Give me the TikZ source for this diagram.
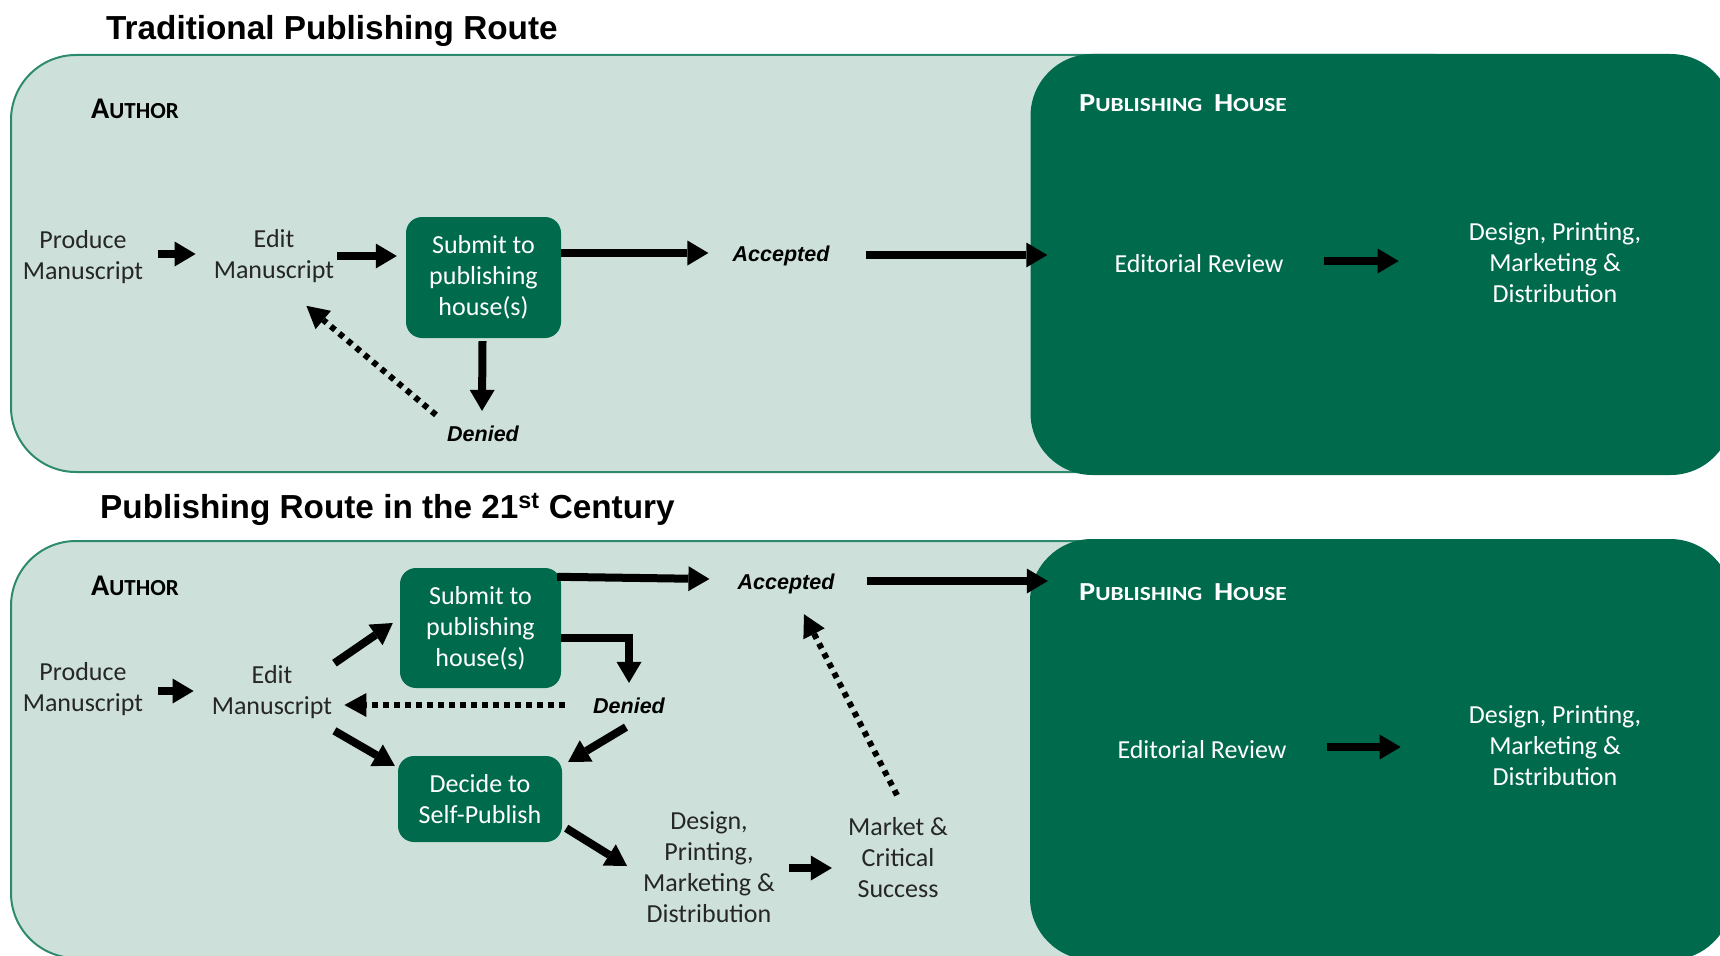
\documentclass[tikz,border=0pt]{standalone}
\usepackage{fontspec}
\usepackage{graphicx}
\setmainfont{Carlito}
\newfontfamily\arialf{Liberation Sans}
\usetikzlibrary{arrows.meta,calc}
\definecolor{lightg}{RGB}{205,225,218}
\definecolor{darkg}{RGB}{0,107,76}
\definecolor{edgeg}{RGB}{46,138,110}
\definecolor{txtc}{RGB}{38,38,38}
\newcommand\fakesc[4]{{\fontsize{#1}{#1}\selectfont #3}{\fontsize{#2}{#2}\selectfont #4}}
\begin{document}
\begin{tikzpicture}[x=1pt,y=-1pt,
  panel/.style={draw=edgeg, line width=2pt, fill=lightg, rounded corners=65pt},
  house/.style={fill=darkg, rounded corners=62pt, inner sep=0, minimum width=702pt, minimum height=421pt},
  gbox/.style={fill=darkg, rounded corners=16pt, text=white, align=center, font=\fontsize{26}{31}\selectfont, inner sep=0},
  lbl/.style={text=txtc, align=center, font=\fontsize{26}{31}\selectfont, inner sep=0},
  wlbl/.style={text=white, align=center, font=\fontsize{26}{31}\selectfont, inner sep=0},
  res/.style={text=black, font=\arialf\bfseries\itshape\fontsize{21.5}{26}\selectfont, inner sep=0},
  ttl/.style={font=\arialf\bfseries\fontsize{33.3}{39}\selectfont, anchor=base west, inner sep=0},
  sclbl/.style={font=\bfseries, anchor=base west, inner sep=0},
  blk/.style={line width=8pt, -{Triangle[length=21pt,width=25pt,line width=0pt]}},
  dots/.style={line width=6pt, dash pattern=on 5.5pt off 5.5pt, -{Triangle[length=22pt,width=24pt,line width=0pt]}},
]
\useasboundingbox (0,0) rectangle (1720,955);
\clip (0,0) rectangle (1720,955);

% ---------- titles ----------
\node[ttl] (t1) at (106,40) {Traditional Publishing Route};
\node[ttl] (t2) at (100,518) {Publishing Route in the 21\textsuperscript{st} Century};

% ---------- top panel ----------
\draw[panel] (11,55) rectangle (1500,472);
\node[house] (ph1) at (1381.5,264.5) {};
\node[sclbl, text=black] (au1) at (91,119) {\fakesc{30}{23}{A}{UTHOR}};
\node[sclbl, text=white] (pl1) at (1079,112) {\scalebox{1.17}[1]{\fakesc{26}{20}{P}{UBLISHING}\hspace{10pt}\fakesc{26}{20}{H}{OUSE}}};

\node[lbl] (prod1) at (83,257) {Produce\\Manuscript};
\node[lbl] (edit1) at (274,256) {Edit\\Manuscript};
\node[gbox, minimum width=155pt, minimum height=121pt] (sub1) at (483.5,277.5) {Submit to\\publishing\\house(s)};
\node[res] (acc1) at (781,256) {Accepted};
\node[res] (den1) at (483,434) {Denied};
\node[wlbl] (er1) at (1199,264) {Editorial Review};
\node[wlbl] (dpm1) at (1555,262.5) {Design, Printing,\\Marketing \&\\Distribution};

\draw[blk] ($(prod1.east)+(15,-3)$) -- ($(prod1.east -| edit1.west)+(-18,-3)$);
\draw[blk] ($(edit1.east)+(3,0)$) -- ($(edit1.east -| sub1.west)+(-9,0)$);
\draw[blk] ($(acc1.west -| sub1.east)+(0,-3)$) -- ($(acc1.west)+(-24,-3)$);
\draw[blk] ($(acc1.east)+(36,-1)$) -- ($(acc1.east -| ph1.west)+(17,-1)$);
\draw[blk] ($(sub1.south)+(-1,3)$) -- ($(den1.north)+(-1,-15)$);
\draw[dots] ($(den1.north west)+(-11,-11)$) -- ($(edit1.south east)+(-28,23)$);
\draw[blk] ($(er1.east)+(40,-3)$) -- ($(er1.east -| dpm1.west)+(-70,-3)$);

% ---------- bottom panel ----------
\draw[panel] (11,541) rectangle (1500,958);
\node[house] (ph2) at (1381,749.5) {};
\node[sclbl, text=black] (au2) at (91,595) {\fakesc{30}{23}{A}{UTHOR}};
\node[sclbl, text=white] (pl2) at (1079,600) {\scalebox{1.17}[1]{\fakesc{26}{20}{P}{UBLISHING}\hspace{10pt}\fakesc{26}{20}{H}{OUSE}}};

\node[lbl] (prod2) at (83,689) {Produce\\Manuscript};
\node[lbl] (edit2) at (272,692) {Edit\\Manuscript};
\node[gbox, minimum width=161pt, minimum height=120pt] (sub2) at (480.5,628) {Submit to\\publishing\\house(s)};
\node[res] (acc2) at (786,584) {Accepted};
\node[res] (den2) at (629,706) {Denied};
\node[gbox, minimum width=164pt, minimum height=86pt] (dec2) at (480,799) {Decide to\\Self-Publish};
\node[lbl] (des2) at (709,867) {Design,\\Printing,\\Marketing \&\\Distribution};
\node[lbl] (mk2) at (898,857.5) {Market \&\\Critical\\Success};
\node[wlbl] (er2) at (1202,750) {Editorial Review};
\node[wlbl] (dpm2) at (1555,745.5) {Design, Printing,\\Marketing \&\\Distribution};

\draw[blk] ($(prod2.east)+(15,2)$) -- ($(prod2.east -| edit2.west)+(-18,2)$);
\draw[blk] ($(edit2.north east)+(2,-2)$) -- ($(sub2.west)+(-7,-5)$);
\draw[blk] ($(sub2.north east)+(-4,9)$) -- ($(acc2.west)+(-28,-5)$);
\draw[blk] ($(acc2.east)+(32,-3)$) -- ($(acc2.east -| ph2.west)+(18,-3)$);
\draw[blk] ($(sub2.east)+(0,10)$) -| ($(den2.north)+(0,-15)$);
\draw[dots] ($(den2.west)+(-28,-1)$) -- ($(edit2.east |- den2.west)+(12,-1)$);
\draw[blk] ($(edit2.south east)+(2,12)$) -- ($(dec2.north west)+(-3,10)$);
\draw[blk] ($(den2.south)+(-3,13)$) -- ($(dec2.north east)+(6,6)$);
\draw[blk] ($(dec2.south east)+(4,-14)$) -- ($(des2.west)+(-16,-1)$);
\draw[blk] ($(des2.east)+(14,1)$) -- ($(des2.east -| mk2.west)+(-16,1)$);
\draw[dots] ($(mk2.north)+(-1,-22)$) -- ($(acc2.south)+(18,20)$);
\draw[blk] ($(er2.east)+(40,-3)$) -- ($(er2.east -| dpm2.west)+(-68,-3)$);
\end{tikzpicture}
\end{document}
